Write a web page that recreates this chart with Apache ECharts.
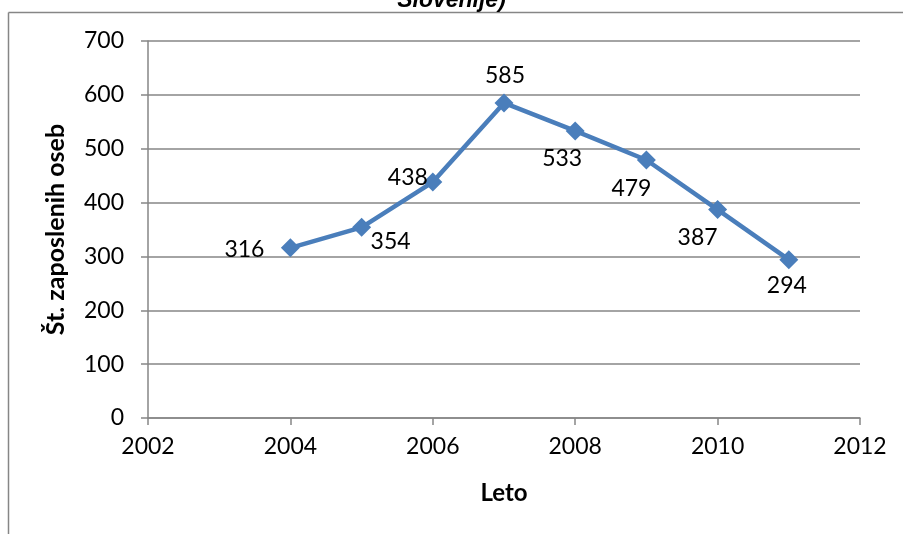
<!DOCTYPE html>
<html><head><meta charset="utf-8">
<script src="https://cdn.jsdelivr.net/npm/echarts@6/dist/echarts.min.js"></script>
<style>html,body{margin:0;padding:0;background:#fff}#c{width:903px;height:534px}</style>
</head><body><div id="c"></div>
<script>
const years = [2004, 2005, 2006, 2007, 2008, 2009, 2010, 2011];
const employees = [316, 354, 438, 585, 533, 479, 387, 294];
const titleText = 'Slovenije)';
const yAxisTitle = 'Št. zaposlenih oseb';
const xAxisTitle = 'Leto';
// label placement offsets (px) relative to each marker
const labelOffsets = [[-46,2],[29,14],[-25,-5],[1,-27],[-13,28],[-15,29],[-20,28],[-2,26]];

const chart = echarts.init(document.getElementById('c'), null, {renderer:'canvas'});
const font = 'Lato';
chart.setOption({
  animation:false,
  backgroundColor:'#fff',
  grid:{left:148,right:43,top:41,bottom:116},
  graphic:[
    {type:'line',shape:{x1:8.5,y1:12.5,x2:903,y2:12.5},style:{stroke:'#868686',lineWidth:1.5}},
    {type:'line',shape:{x1:8.5,y1:12.5,x2:8.5,y2:534},style:{stroke:'#868686',lineWidth:1.5}},
    {type:'text',left:'center',top:-11,style:{text:titleText,fontFamily:'Liberation Sans',fontSize:23,fontStyle:'italic',fontWeight:'bold',fill:'#000'}}
  ],
  xAxis:{type:'value',min:2002,max:2012,interval:2,
    axisLine:{show:true,lineStyle:{color:'#868686',width:1.5}},
    axisTick:{show:true,length:7,lineStyle:{color:'#868686',width:1.5}},
    splitLine:{show:false},
    axisLabel:{color:'#000',fontSize:23,fontFamily:font,margin:17,formatter:v=>String(v)},
    name:xAxisTitle,nameLocation:'middle',nameGap:63,
    nameTextStyle:{color:'#000',fontSize:24,fontWeight:'bold',fontFamily:font}},
  yAxis:{type:'value',min:0,max:700,interval:100,
    axisLine:{show:true,lineStyle:{color:'#868686',width:1.5}},
    axisTick:{show:true,length:7,lineStyle:{color:'#868686',width:1.5}},
    splitLine:{show:true,lineStyle:{color:'#868686',width:1.5}},
    axisLabel:{color:'#000',fontSize:23,fontFamily:font,margin:24},
    name:yAxisTitle,nameLocation:'middle',nameGap:80,
    nameTextStyle:{color:'#000',fontSize:25,fontWeight:'bold',fontFamily:font}},
  series:[{
    type:'line',
    data:years.map((y,i)=>({value:[y,employees[i]],label:{offset:labelOffsets[i]}})),
    symbol:'diamond',symbolSize:19,
    lineStyle:{color:'#4a7ebb',width:4.5},
    itemStyle:{color:'#4a7ebb'},
    label:{show:true,position:'inside',color:'#000',fontSize:23,fontFamily:font,
      formatter:p=>p.value[1]}
  }]
});
</script></body></html>
